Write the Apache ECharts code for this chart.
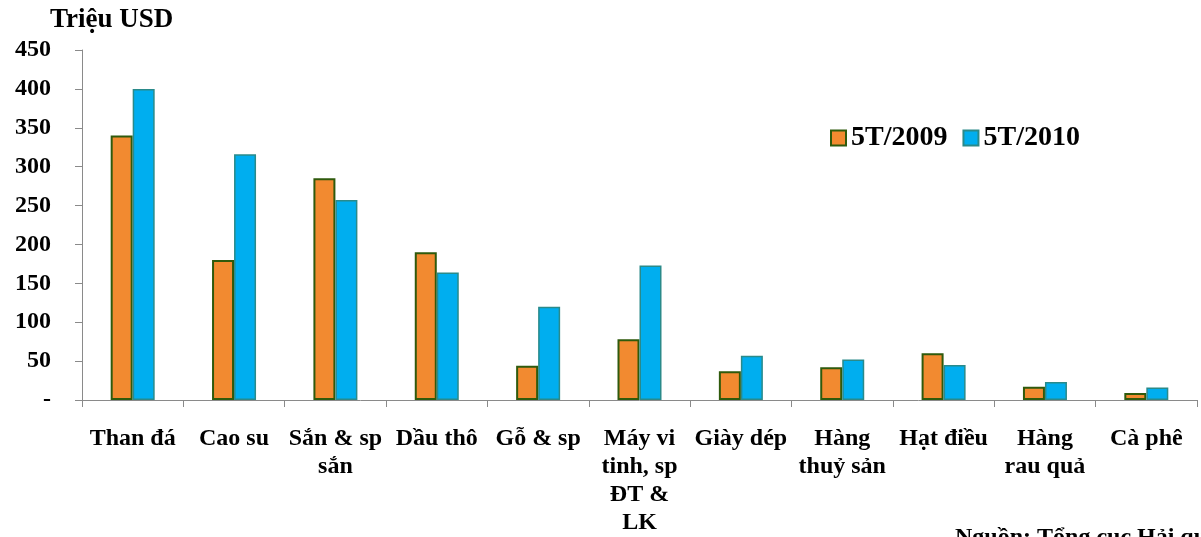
<!DOCTYPE html>
<html>
<head>
<meta charset="utf-8">
<script src="https://cdn.jsdelivr.net/npm/echarts@6/dist/echarts.min.js"></script>
<style>html,body{margin:0;padding:0;background:#fff;}#c{width:1201px;height:537px;}</style>
</head>
<body>
<div id="c"></div>
<script>
var categories = ['Than đá', 'Cao su', 'Sắn & sp\nsắn', 'Dầu thô', 'Gỗ & sp', 'Máy vi\ntinh, sp\nĐT &\nLK', 'Giày dép', 'Hàng\nthuỷ sản', 'Hạt điều', 'Hàng\nrau quả', 'Cà phê'];
var seriesNames = ['5T/2009', '5T/2010'];
var values2009 = [340, 180, 285, 190, 44, 78, 37, 42, 60, 17, 9];
var values2010 = [400, 316, 257, 164, 120, 173, 57, 52, 45, 23, 16];
var yTicks = { min: 0, max: 450, interval: 50 };
var titleText = 'Triệu USD';
var sourceText = 'Nguồn: Tổng cục Hải quan';

var FONT = '"Liberation Serif", "DejaVu Serif", serif';
var chart = echarts.init(document.getElementById('c'));
chart.setOption({
  backgroundColor: '#ffffff',
  animation: false,
  title: {
    text: titleText, left: 45, top: 2,
    textStyle: { fontFamily: FONT, fontWeight: 'bold', fontSize: 27, color: '#000' }
  },
  legend: {
    data: seriesNames, left: 825, top: 119, icon: 'rect', itemWidth: 15, itemHeight: 15, itemGap: 15,
    textStyle: { fontFamily: FONT, fontWeight: 'bold', fontSize: 28, color: '#000' }
  },
  grid: { left: 82, right: 4, top: 50, bottom: 133 },
  xAxis: {
    type: 'category', data: categories,
    axisLine: { lineStyle: { color: '#8a8a8a', width: 1 } },
    axisTick: { show: true, length: 7, lineStyle: { color: '#8a8a8a' } },
    axisLabel: { interval: 0, margin: 25, fontFamily: FONT, fontWeight: 'bold', fontSize: 24, lineHeight: 28, color: '#000' }
  },
  yAxis: {
    type: 'value', min: yTicks.min, max: yTicks.max, interval: yTicks.interval,
    splitLine: { show: false },
    axisLine: { show: true, lineStyle: { color: '#8a8a8a', width: 1 } },
    axisTick: { show: true, length: 7, lineStyle: { color: '#8a8a8a' } },
    axisLabel: { margin: 31, fontFamily: FONT, fontWeight: 'bold', fontSize: 24, color: '#000',
      formatter: function (v) { return v === 0 ? '-' : String(v); } }
  },
  series: [
    { name: seriesNames[0], type: 'bar', data: values2009, barWidth: 22, barGap: '0%',
      itemStyle: { color: '#F28A30', borderColor: '#2F5A0C', borderWidth: 2 } },
    { name: seriesNames[1], type: 'bar', data: values2010, barWidth: 22, barGap: '0%',
      itemStyle: { color: '#00AEEF', borderColor: '#2A8A8A', borderWidth: 1.5 } }
  ],
  graphic: [{
    type: 'text', left: 955, top: 526,
    style: { text: sourceText, font: 'bold 24px ' + FONT, fill: '#000' }
  }]
});
</script>
</body>
</html>
